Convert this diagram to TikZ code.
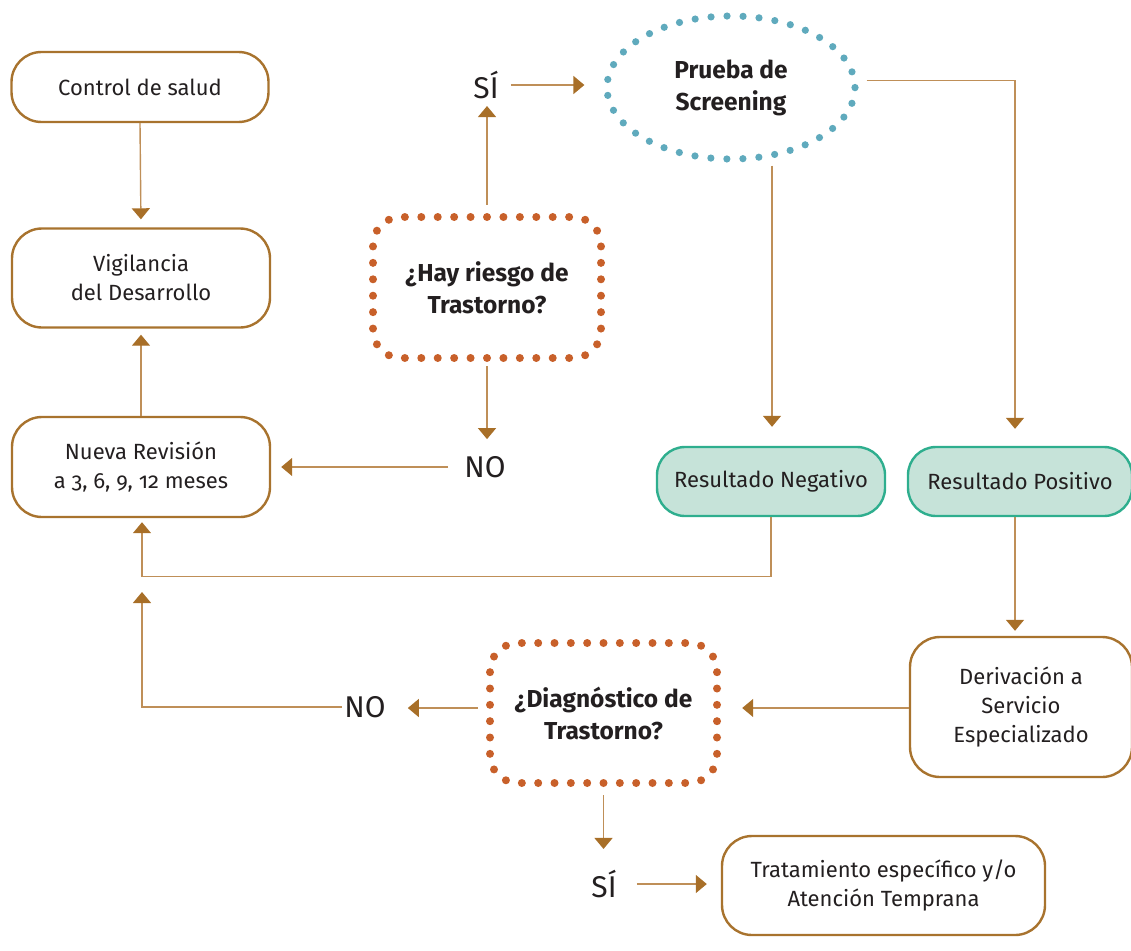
\documentclass[tikz,border=0pt]{standalone}
\usepackage{fontspec}
\setmainfont{Fira Sans}[Numbers=OldStyle]
\usetikzlibrary{shapes.geometric,arrows.meta,calc}
\definecolor{brd}{HTML}{A8732E}
\definecolor{linec}{HTML}{BF8F58}
\definecolor{tipc}{HTML}{A86F28}
\definecolor{dotor}{HTML}{C8602A}
\definecolor{dotte}{HTML}{5FAABD}
\definecolor{tealfill}{HTML}{C6E3D9}
\definecolor{tealbrd}{HTML}{2EAE8E}
\definecolor{txt}{HTML}{231F20}
% dotted rounded frame: cx, cy, w, h, r, N, colour
\newcommand\dotframe[7]{%
  \pgfmathsetmacro\dfLa{#3-2*#5}%
  \pgfmathsetmacro\dfLb{#4-2*#5}%
  \pgfmathsetmacro\dfAr{pi*#5/2}%
  \pgfmathsetmacro\dfbA{\dfLa}%
  \pgfmathsetmacro\dfbB{\dfbA+\dfAr}%
  \pgfmathsetmacro\dfbC{\dfbB+\dfLb}%
  \pgfmathsetmacro\dfbD{\dfbC+\dfAr}%
  \pgfmathsetmacro\dfbE{\dfbD+\dfLa}%
  \pgfmathsetmacro\dfbF{\dfbE+\dfAr}%
  \pgfmathsetmacro\dfbG{\dfbF+\dfLb}%
  \pgfmathsetmacro\dfP{\dfbG+\dfAr}%
  \pgfmathsetmacro\dfstep{\dfP/#6}%
  \foreach \dfi in {1,...,#6}{%
    \pgfmathsetmacro\dfs{mod(\dfLa/2+(\dfi-1)*\dfstep,\dfP)}%
    \ifdim\dfs pt<\dfbA pt
      \pgfmathsetmacro\dfx{#1-\dfLa/2+\dfs}\pgfmathsetmacro\dfy{#2-#4/2}%
    \else\ifdim\dfs pt<\dfbB pt
      \pgfmathsetmacro\dfa{(\dfs-\dfbA)/#5*57.29578}%
      \pgfmathsetmacro\dfx{#1+\dfLa/2+#5*sin(\dfa)}\pgfmathsetmacro\dfy{#2-\dfLb/2-#5*cos(\dfa)}%
    \else\ifdim\dfs pt<\dfbC pt
      \pgfmathsetmacro\dfx{#1+#3/2}\pgfmathsetmacro\dfy{#2-\dfLb/2+\dfs-\dfbB}%
    \else\ifdim\dfs pt<\dfbD pt
      \pgfmathsetmacro\dfa{(\dfs-\dfbC)/#5*57.29578}%
      \pgfmathsetmacro\dfx{#1+\dfLa/2+#5*cos(\dfa)}\pgfmathsetmacro\dfy{#2+\dfLb/2+#5*sin(\dfa)}%
    \else\ifdim\dfs pt<\dfbE pt
      \pgfmathsetmacro\dfx{#1+\dfLa/2-(\dfs-\dfbD)}\pgfmathsetmacro\dfy{#2+#4/2}%
    \else\ifdim\dfs pt<\dfbF pt
      \pgfmathsetmacro\dfa{(\dfs-\dfbE)/#5*57.29578}%
      \pgfmathsetmacro\dfx{#1-\dfLa/2-#5*sin(\dfa)}\pgfmathsetmacro\dfy{#2+\dfLb/2+#5*cos(\dfa)}%
    \else\ifdim\dfs pt<\dfbG pt
      \pgfmathsetmacro\dfx{#1-#3/2}\pgfmathsetmacro\dfy{#2+\dfLb/2-(\dfs-\dfbF)}%
    \else
      \pgfmathsetmacro\dfa{(\dfs-\dfbG)/#5*57.29578}%
      \pgfmathsetmacro\dfx{#1-\dfLa/2-#5*cos(\dfa)}\pgfmathsetmacro\dfy{#2-\dfLb/2-#5*sin(\dfa)}%
    \fi\fi\fi\fi\fi\fi\fi
    \fill[#7] (\dfx,\dfy) circle (4pt);
  }%
}
\tikzset{
  box/.style={draw=brd, line width=2.4pt, rounded corners=30pt, align=center, inner sep=0pt, text=txt,
    font=\fontsize{22}{29}\selectfont},
  resbox/.style={box, draw=tealbrd, fill=tealfill, rounded corners=28pt},
  dotbox/.style={align=center, inner sep=0pt, text=txt,
    font=\bfseries\fontsize{24.5}{32}\selectfont},
  dotell/.style={ellipse, draw=dotte, line width=7.2pt, dash pattern=on 0pt off 16.03pt, line cap=round,
    align=center, inner sep=0pt, text=txt, font=\bfseries\fontsize{24.5}{32}\selectfont},
  lbl/.style={text=txt, inner sep=0pt, font=\fontsize{30}{32}\selectfont},
  conn/.style={draw=linec, line width=1.4pt, -{Triangle[length=11pt,width=18pt,color=tipc]}},
}
\begin{document}
\begin{tikzpicture}[x=1pt,y=-1pt]
\useasboundingbox (0,0) rectangle (1131,950);
% nodes
\node[box, minimum width=257pt, minimum height=70pt] (ctrl) at (140,87) {Control de salud};
\node[box, minimum width=258pt, minimum height=99pt] (vig) at (141,278) {Vigilancia\\del Desarrollo};
\node[box, minimum width=258pt, minimum height=100pt] (nueva) at (141,467) {Nueva Revisión\\a 3, 6, 9, 12 meses};
\node[dotbox, minimum width=228pt, minimum height=141pt] (hay) at (487,287.5) {¿Hay riesgo de\\Trastorno?};
\dotframe{487}{287.5}{228}{141}{28}{42}{dotor}
\node[dotell, minimum width=248pt, minimum height=143pt] (ell) at (731,87.5) {Prueba de\\Screening};
\node[resbox, minimum width=228pt, minimum height=69pt] (neg) at (771,481.5) {Resultado Negativo};
\node[resbox, minimum width=224pt, minimum height=69pt] (pos) at (1020,481.5) {Resultado Positivo};
\node[box, minimum width=222pt, minimum height=140pt] (der) at (1021,707) {Derivación a\\Servicio\\Especializado};
\node[dotbox, minimum width=227pt, minimum height=140pt] (diag) at (603.5,713) {¿Diagnóstico de\\Trastorno?};
\dotframe{603.5}{713}{227}{140}{28}{42}{dotor}
\node[box, minimum width=323pt, minimum height=99pt] (trat) at (883.5,885.5) {Tratamiento específico y/o\\Atención Temprana};
\node[lbl] (si1) at (486,85) {SÍ};
\node[lbl] (no1) at (485,467) {NO};
\node[lbl] (no2) at (365,707) {NO};
\node[lbl] (si2) at (604,884) {SÍ};
\coordinate (ret) at (142,592);
% connectors
\draw[conn, shorten >=8pt] (ctrl.south) -- (vig.north);
\draw[conn, shorten >=6pt] (nueva.north) -- (vig.south);
\draw[conn, shorten <=12pt, shorten >=7pt] (hay.north) -- (hay.north |- si1.south);
\draw[conn, shorten <=12pt, shorten >=19pt] (si1.east) -- (si1.east -| ell.west);
\draw[conn, shorten <=8pt, shorten >=17pt] (hay.south) -- (hay.south |- no1.north);
\draw[conn, shorten <=16pt, shorten >=10pt] (no1.west) -- (no1.west -| nueva.east);
\draw[conn, shorten >=17pt] ([shift={(8,-7)}]ell.east) -| ([xshift=-5pt]pos.north);
\draw[conn, shorten <=3pt, shorten >=19pt] ([xshift=41pt]ell.south) -- ([xshift=41pt]ell.south |- neg.north);
\draw[conn, shorten >=4pt] (neg.south) -- ++(0,59) -| ([xshift=1pt]nueva.south);
\draw[conn, shorten >=5pt] ([xshift=-5pt]pos.south) -- ([xshift=-5pt]pos.south |- der.north);
\draw[conn, shorten >=25pt] ([yshift=-1pt]der.west) -- ([yshift=-1pt]der.west -| diag.east);
\draw[conn, shorten <=12pt, shorten >=22pt] ([yshift=5pt]diag.west) -- ([yshift=5pt]diag.west -| no2.east);
\draw[conn, shorten <=2pt] (no2.west) -| (ret);
\draw[conn, shorten <=12pt, shorten >=21pt] (diag.south) -- (diag.south |- si2.north);
\draw[conn, shorten <=20pt, shorten >=14pt] (si2.east) -- (si2.east -| trat.west);
\end{tikzpicture}
\end{document}
